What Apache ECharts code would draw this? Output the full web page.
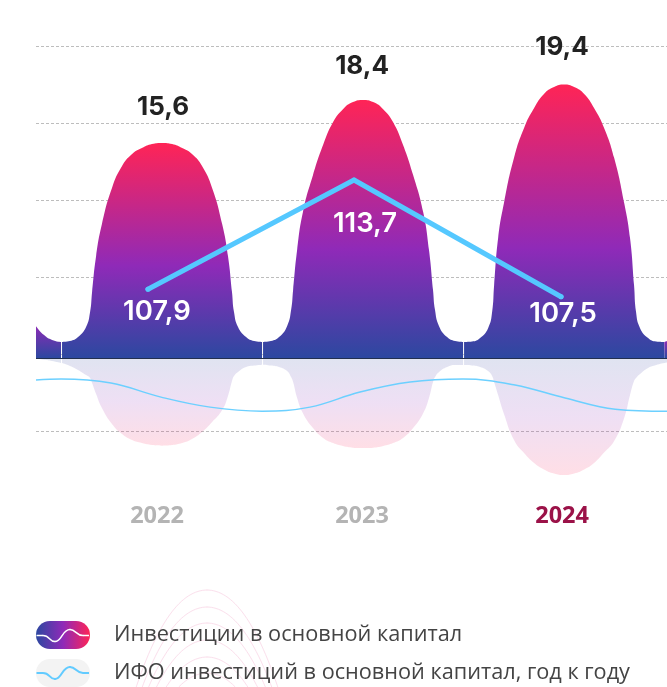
<!DOCTYPE html>
<html>
<head>
<meta charset="utf-8">
<style>html,body{margin:0;padding:0;background:#fff}#c{width:667px;height:687px}</style>
<script src="https://cdn.jsdelivr.net/npm/echarts@6/dist/echarts.min.js"></script>
</head>
<body>
<div id="c"></div>
<script>
// ---- data ----
const years = [2022, 2023, 2024];
const tickLabels = ['2022', '2023', '2024'];
const tickAt = [2021.975, 2022.995, 2023.99];
const investments = [15.6, 18.4, 19.4];
const ifoLabels = [107.9, 113.7, 107.5];
const ifoYears = [2021.93, 2022.955, 2023.985];
const humpCentre = [2022, 2023, 2024];
const valleys = [2021.4975, 2022.4975, 2023.4975, 2024.4975];
const baseline = 1.636;

// outline samples, years relative to each hump's centre
const humpOffsets = [-0.4975,-0.458,-0.418,-0.378,-0.358,-0.348,-0.328,-0.299,-0.249,-0.199,-0.149,-0.1,-0.05,0,0.05,0.1,0.149,0.199,0.249,0.299,0.328,0.348,0.358,0.378,0.418,0.458,0.4975];

const top2022 = [2.68,2.74,3.0,3.65,4.62,5.92,8.26,10.34,12.68,14.1,14.88,15.27,15.53,15.6,15.53,15.27,14.88,14.1,12.68,10.34,8.26,5.92,4.62,3.65,3.0,2.74,2.68];
const top2023 = [2.68,2.74,3.0,3.71,4.75,6.05,8.65,11.12,13.52,15.47,16.96,17.8,18.26,18.4,18.26,17.8,16.96,15.47,13.52,11.12,8.65,6.05,4.75,3.71,3.0,2.74,2.68];
const top2024 = [2.68,2.71,2.94,3.58,4.62,6.38,9.43,11.7,14.64,16.58,17.87,18.78,19.23,19.4,19.23,18.78,17.87,16.58,14.64,11.7,9.43,6.38,4.62,3.58,2.94,2.71,2.68];
const low2022 = [1.31,1.12,0.86,0.53,0.34,0.01,-0.7,-1.61,-2.65,-3.3,-3.69,-3.88,-4.01,-4.05,-4.01,-3.88,-3.62,-3.17,-2.52,-1.74,-0.83,0.14,0.47,0.73,1.05,1.15,1.21];
const low2023 = [1.21,1.15,1.05,0.79,0.4,0.08,-0.95,-1.94,-2.91,-3.55,-3.88,-4.07,-4.18,-4.21,-4.18,-4.07,-3.88,-3.55,-2.91,-1.94,-0.95,0.08,0.4,0.73,1.05,1.18,1.18];
const low2024 = [1.18,1.15,1.05,0.79,0.47,0.08,-0.77,-2.0,-3.68,-4.53,-5.18,-5.6,-5.86,-5.96,-5.86,-5.6,-5.18,-4.5,-3.75,-2.25,-0.77,0.14,0.34,0.6,0.99,1.18,1.31];

const edgeLeftX = [2021.373,2021.413,2021.453,2021.4975];
const edgeLeftTop = [3.71,3.13,2.81,2.68];
const edgeLeftLow = [1.6,1.52,1.44,1.31];
const edgeRightX = [2024.4975,2024.512];
const edgeRightTop = [2.68,2.75];
const edgeRightLow = [1.31,1.34];

const thinX = [2021.373,2021.4975,2021.746,2021.995,2022.239,2022.4975,2022.736,2022.985,2023.234,2023.4975,2023.756,2024.005,2024.254,2024.512];
const thinY = [0.21,0.27,0.01,-0.9,-1.55,-1.81,-1.55,-0.57,0.08,0.27,-0.12,-0.96,-1.68,-1.81];

// ---- names ----
const nameInv = 'Инвестиции в основной капитал';
const nameIfo = 'ИФО инвестиций в основной капитал, год к году';

// ---- styles ----
const humpGrad = (mid) => ({type:'linear',x:0,y:0,x2:0,y2:1,colorStops:[
  {offset:0,color:'#ff2456'},{offset:mid,color:'#8f2ab8'},{offset:1,color:'#2c48a0'}]});
const lowGrad = {type:'linear',x:0,y:0,x2:0,y2:1,colorStops:[
  {offset:0,color:'rgba(44,72,160,0.15)'},{offset:0.5,color:'rgba(143,42,184,0.15)'},{offset:1,color:'rgba(255,36,86,0.15)'}]};
const edgeGrad = {type:'linear',x:0,y:0,x2:0,y2:1,colorStops:[
  {offset:0,color:'#8a2cb5'},{offset:1,color:'#2c48a0'}]};
const pillGrad = {type:'linear',x:0,y:0,x2:1,y2:0,colorStops:[
  {offset:0,color:'#2c48a0'},{offset:0.5,color:'#8f2ab8'},{offset:1,color:'#ff2456'}]};
const numFont = 'Inter, "Noto Sans", sans-serif';
const legFont = '"Open Sans", "Noto Sans", sans-serif';
const pill = 'path://M14 0H40A14 14 0 0 1 40 28H14A14 14 0 0 1 14 0Z';

function area(name, pts, grad, z) {
  return {type:'line', name, data:pts, xAxisIndex:0, yAxisIndex:0, clip:false, silent:true,
    smooth:0.5, showSymbol:false, symbol:'none',
    lineStyle:{width:0,opacity:0}, itemStyle:{color:'#8f2ab8'},
    areaStyle:{origin:baseline,color:grad,opacity:1}, z};
}
const zip = (xs, ys) => xs.map((x,i)=>[x,ys[i]]);
const hump = (c, ys) => humpOffsets.map((o,i)=>[c+o, ys[i]]);

const tops = [top2022, top2023, top2024];
const lows = [low2022, low2023, low2024];
const mids = [0.57, 0.58, 0.6];

const series = [];
series.push(area(nameInv, zip(edgeLeftX, edgeLeftTop), edgeGrad, 3));
tops.forEach((t,i)=>series.push(area(nameInv, hump(humpCentre[i], t), humpGrad(mids[i]), 3)));
series.push(area(nameInv, zip(edgeRightX, edgeRightTop), edgeGrad, 3));
series.push(area('low', zip(edgeLeftX, edgeLeftLow), 'rgba(44,72,160,0.15)', 3));
lows.forEach((t,i)=>series.push(area('low', hump(humpCentre[i], t), lowGrad, 3)));
series.push(area('low', zip(edgeRightX, edgeRightLow), 'rgba(44,72,160,0.15)', 3));

// baseline + thin separators in valleys
series.push({type:'scatter', name:'axis', data:[], xAxisIndex:0, yAxisIndex:0, silent:true, z:5,
  markLine:{silent:true, symbol:'none', animation:false, label:{show:false},
    data:[
      {yAxis:baseline, lineStyle:{color:'#22304f',width:1.2,type:'solid',opacity:1}},
      ...valleys.map(v=>[{coord:[v,baseline],lineStyle:{color:'#fff',width:1,type:'solid',opacity:0.2}},{coord:[v,2.68]}])
    ]}});

// thin wave
series.push({type:'line', name:'wave', data:zip(thinX,thinY), xAxisIndex:0, yAxisIndex:0, clip:false, silent:true,
  smooth:0.4, showSymbol:false, symbol:'none',
  lineStyle:{color:'#6cd0ff',width:1.5}, z:6});

// thick index line with labels
const ifoOffsets = [[9,0],[11,0],[2,0]];
series.push({type:'line', name:nameIfo, xAxisIndex:0, yAxisIndex:2, silent:true, z:7,
  showSymbol:true, showAllSymbol:true, symbol:'circle', symbolSize:5, itemStyle:{color:'#55c8ff'},
  lineStyle:{color:'#55c8ff',width:5,cap:'round',join:'round'},
  data:ifoLabels.map((v,i)=>({value:[ifoYears[i],v],
    label:{show:true,position:'bottom',distance:[6,27,0][i],offset:ifoOffsets[i],
      color:'#fff',fontFamily:numFont,fontWeight:600,fontSize:27.5,
      formatter:String(v).replace('.',',')}}))
});

// values above the humps
const topOffsets = [[1,0],[-1,0],[-2,0]];
series.push({type:'scatter', name:'peaks', xAxisIndex:0, yAxisIndex:0, silent:true, z:8, symbolSize:0, clip:false,
  itemStyle:{opacity:1},
  data:investments.map((v,i)=>({value:[years[i],v],
    label:{show:true,position:'top',distance:[23,21,24][i],offset:topOffsets[i],
      color:'#222',fontFamily:numFont,fontWeight:700,fontSize:26,
      formatter:String(v).replace('.',',')}}))
});

// decorative arches behind the legend and the little legend waves
const bez = (p, stroke, lineWidth, z) => ({type:'bezierCurve',silent:true,z,
  shape:{x1:p[0],y1:p[1],cpx1:p[2],cpy1:p[3],cpx2:p[4],cpy2:p[5],x2:p[6],y2:p[7]},
  style:{fill:null,stroke,lineWidth,lineCap:'round'}});
const seg = (x1,x2,y,stroke,lineWidth,z) => ({type:'line',silent:true,z,shape:{x1,y1:y,x2,y2:y},
  style:{stroke,lineWidth}});
const archTops = [590,607,623,640,657,673];
const graphic = [];
archTops.forEach(y=>{
  graphic.push(bez([132,y+110,157,y+30,182,y,207,y],'#fbdfec',1,1));
  graphic.push(bez([207,y,232,y,257,y+30,282,y+110],'#fbdfec',1,1));
});
[[635.5,'#fff',1.5],[673,'#62cbff',2]].forEach(([y,c,w])=>{
  graphic.push(seg(36.5,43,y,c,w,10));
  graphic.push(bez([43,y,50,y,49,y+6,55,y+6],c,w,10));
  graphic.push(bez([55,y+6,62,y+6,62,y-6,70,y-6],c,w,10));
  graphic.push(bez([70,y-6,76,y-6,76,y,83,y],c,w,10));
  graphic.push(seg(83,89,y,c,w,10));
});

const chart = echarts.init(document.getElementById('c'),null,{renderer:'canvas'});
chart.setOption({
  animation:false,
  backgroundColor:'#fff',
  grid:{left:36,width:631,top:46,height:385,containLabel:false},
  xAxis:[{type:'value',min:2021.373,max:2024.512,position:'bottom',
    axisLine:{show:false,onZero:false},axisTick:{show:false},splitLine:{show:false},
    axisLabel:{show:true,customValues:tickAt,margin:73,fontFamily:legFont,fontWeight:700,fontSize:23.5,
      color:(v)=> tickAt.indexOf(Number(v))===2 ? '#9b1248' : '#b4b4b4',
      formatter:(v)=>tickLabels[tickAt.indexOf(Number(v))]}}],
  yAxis:[
    {type:'value',min:-3.1,max:21.9,show:false,splitLine:{show:false}},
    {type:'value',min:-5,max:20,interval:5,axisLabel:{show:false},axisLine:{show:false},axisTick:{show:false},
      splitLine:{show:true,lineStyle:{color:'#bdbdbd',width:1,type:[3,2]}}},
    {type:'value',min:100.37,max:120.816,show:false,splitLine:{show:false}}
  ],
  legend:{show:true,orient:'vertical',left:36,top:621,padding:0,itemWidth:54,itemHeight:28,itemGap:10,
    selectedMode:false,
    textStyle:{fontFamily:legFont,fontSize:21.7,lineHeight:19,color:'#444',padding:[9,0,0,19]},
    data:[
      {name:nameInv,icon:pill,itemStyle:{color:pillGrad}},
      {name:nameIfo,icon:pill,itemStyle:{color:'#f3f3f3'}}
    ]},
  graphic:{elements:graphic},
  series
});
</script>
</body>
</html>
